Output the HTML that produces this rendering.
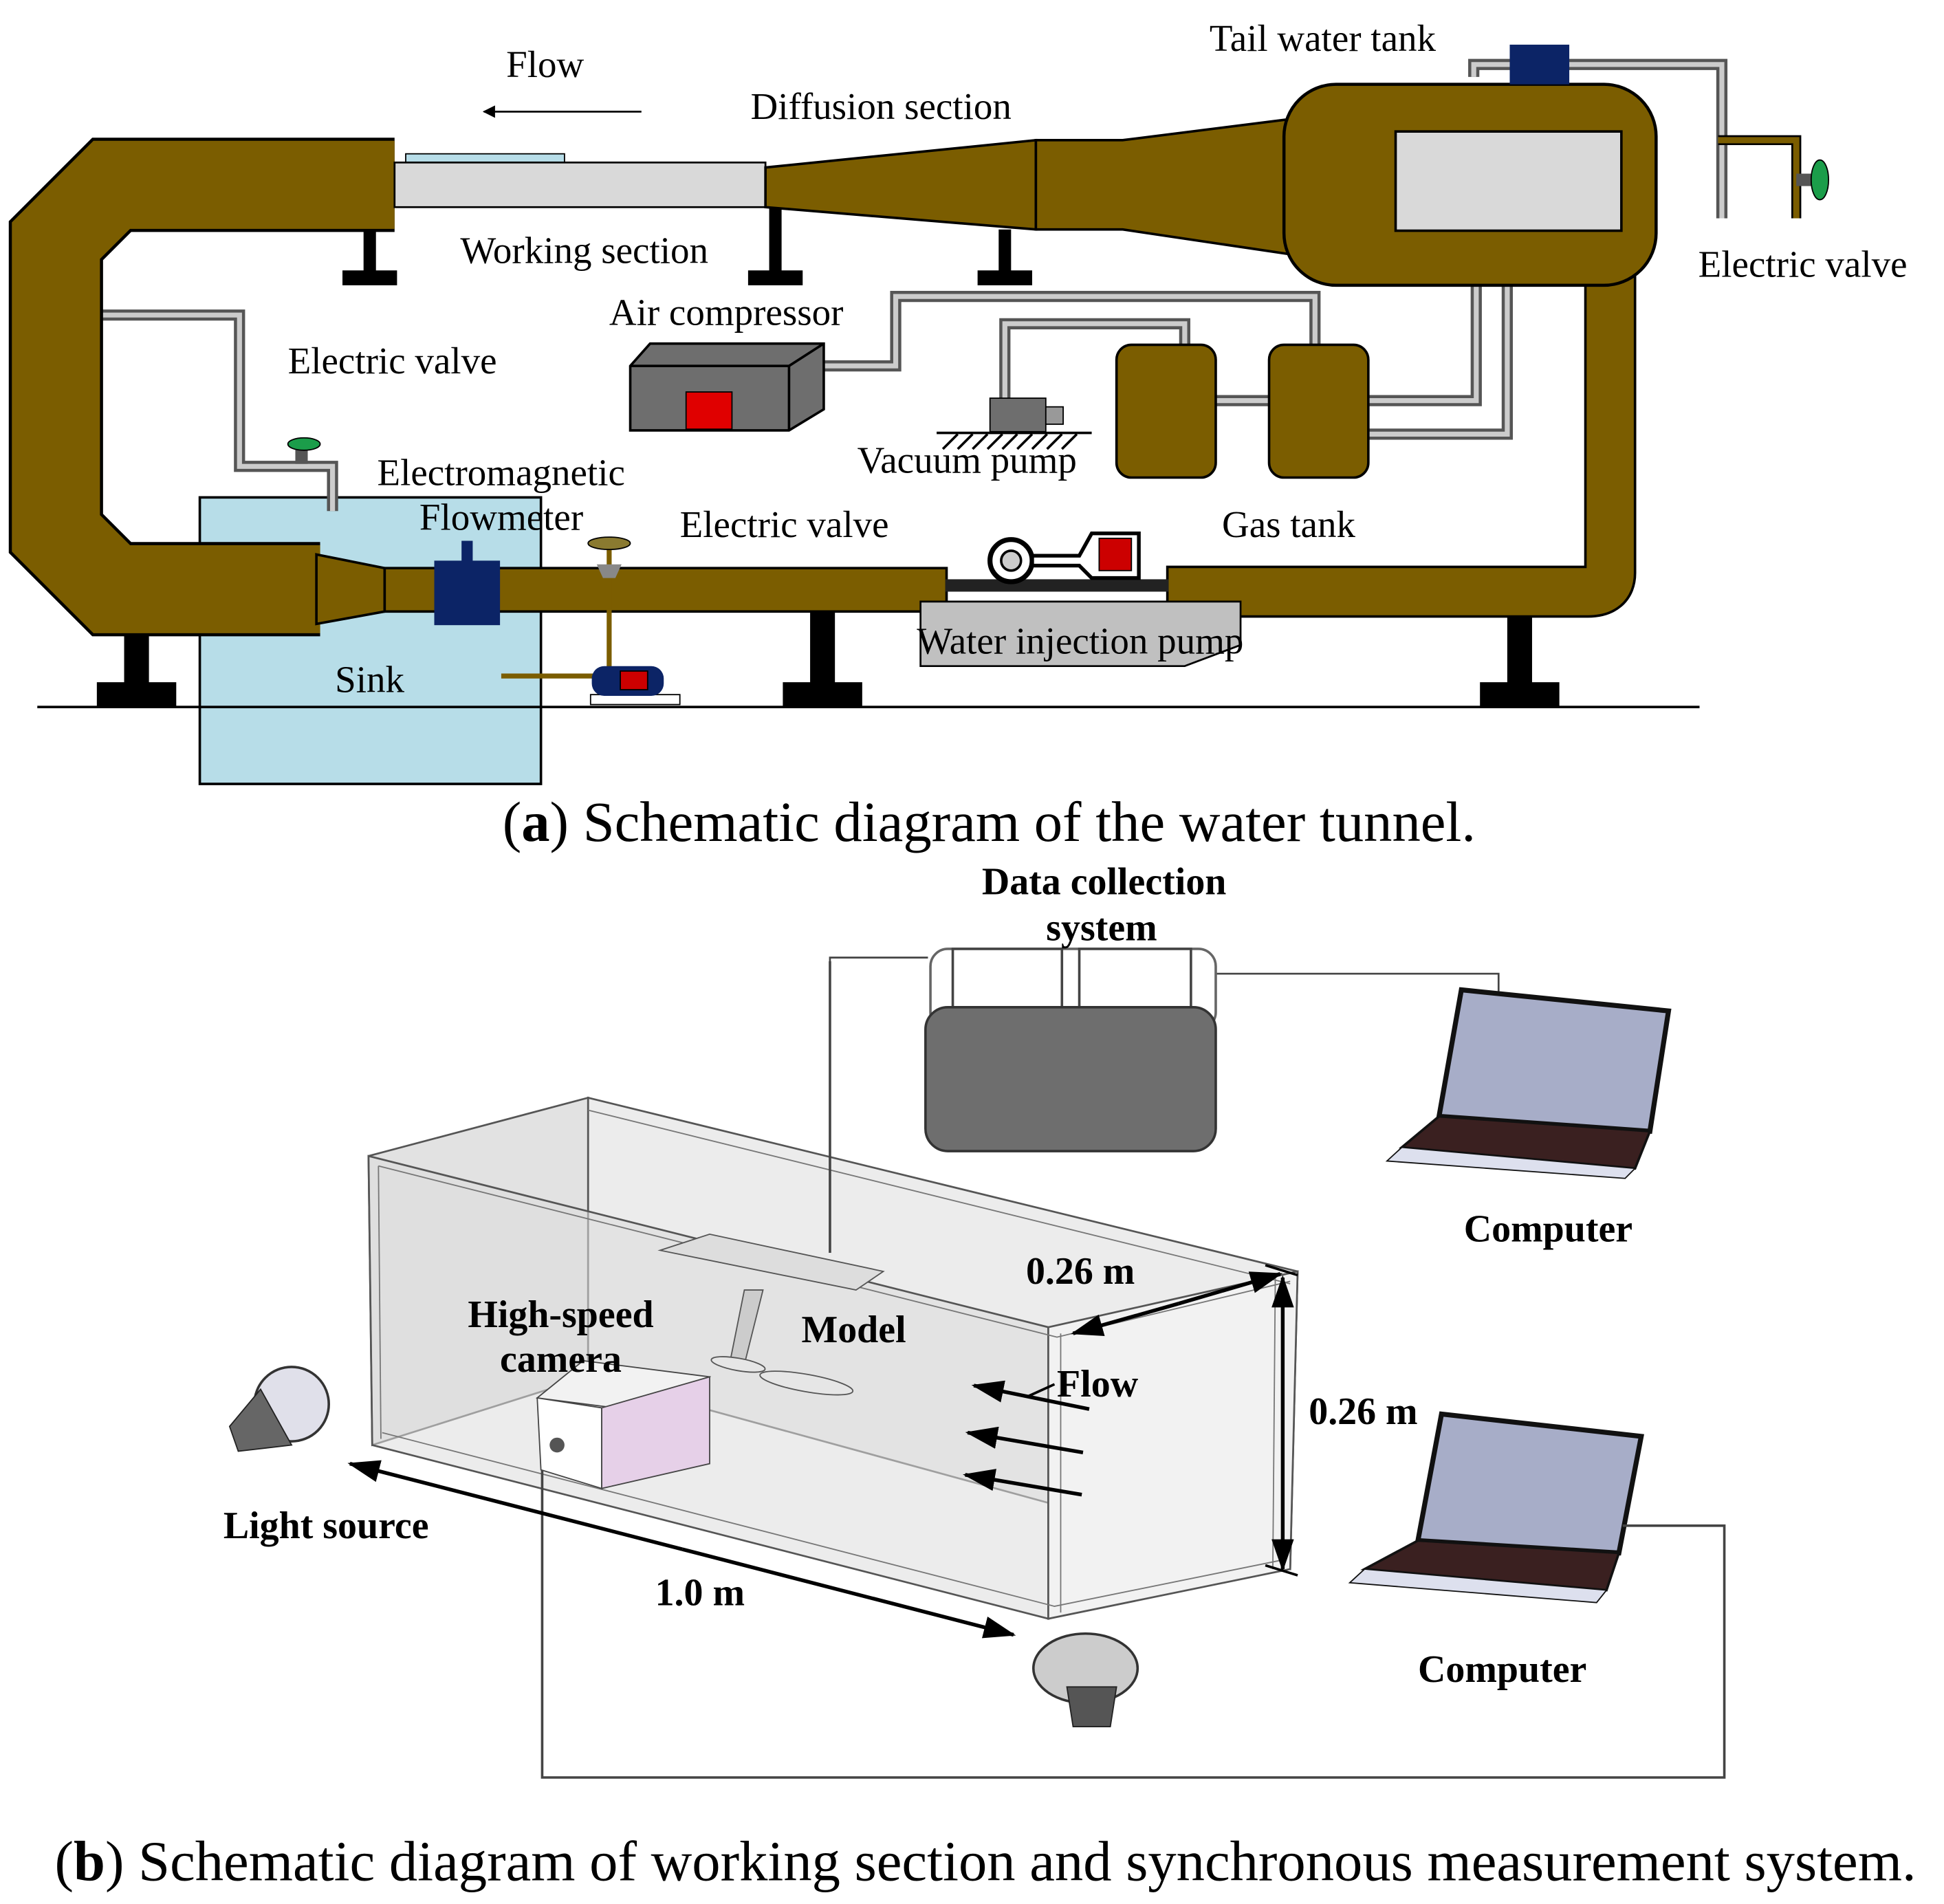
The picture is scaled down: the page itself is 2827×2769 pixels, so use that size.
<!DOCTYPE html>
<html><head><meta charset="utf-8"><style>
html,body{margin:0;padding:0;background:#fff;}
svg{display:block;}
.s{font-family:"Liberation Serif",serif;font-size:30.5px;fill:#000;}
.b{font-family:"Liberation Serif",serif;font-size:31px;font-weight:bold;fill:#000;}
.c{font-family:"Liberation Serif",serif;font-size:45.8px;fill:#000;}
</style></head><body>
<svg width="2827" height="2769" viewBox="0 0 1567 1535" xmlns="http://www.w3.org/2000/svg">
<defs>
<marker id="ah" markerWidth="10" markerHeight="10" refX="9" refY="5" orient="auto" markerUnits="userSpaceOnUse" viewBox="0 0 10 10"><path d="M0,0 L10,5 L0,10 z" fill="#000"/></marker>
<marker id="ab" markerWidth="26" markerHeight="18" refX="24" refY="9" orient="auto" markerUnits="userSpaceOnUse" viewBox="0 0 26 18"><path d="M0,0 L26,9 L0,18 z" fill="#000"/></marker>
</defs>
<rect x="161" y="401" width="275" height="231" fill="#b7dde8" stroke="#000" stroke-width="2"/>
<line x1="30" y1="570" x2="1370" y2="570" stroke="#000" stroke-width="2"/>
<g fill="#000">
<rect x="293" y="185" width="10" height="40"/><rect x="276" y="218" width="44" height="12"/>
<rect x="620" y="167" width="10" height="58"/><rect x="603" y="218" width="44" height="12"/>
<rect x="805" y="185" width="10" height="40"/><rect x="788" y="218" width="44" height="12"/>
<rect x="100" y="480" width="20" height="72"/><rect x="78" y="550" width="64" height="20"/>
<rect x="653" y="480" width="20" height="72"/><rect x="631" y="550" width="64" height="20"/>
<rect x="1215" y="497" width="20" height="55"/><rect x="1193" y="550" width="64" height="20"/>
</g>
<g fill="none" stroke="#555" stroke-width="9"><path d="M75,254 H193 V376 H268 V412"/>
<path d="M664,295 H722 V239 H1060 V280"/><path d="M810,322 V261 H955 V280"/>
<path d="M980,323 H1023"/><path d="M1103,323 H1190 V228"/><path d="M1103,350 H1215 V228"/>
<path d="M1188,62 V52 H1388 V176"/></g>
<g fill="none" stroke="#ccc" stroke-width="4"><path d="M75,254 H193 V376 H268 V412"/>
<path d="M664,295 H722 V239 H1060 V280"/><path d="M810,322 V261 H955 V280"/>
<path d="M980,323 H1023"/><path d="M1103,323 H1190 V228"/><path d="M1103,350 H1215 V228"/>
<path d="M1188,62 V52 H1388 V176"/></g>
<path d="M318,149 H90 L45,194 V430 L90,475 H258" fill="none" stroke="#000" stroke-width="76"/>
<path d="M318,149 H90 L45,194 V430 L90,475 H258" fill="none" stroke="#7b5d00" stroke-width="71"/>
<path d="M1298,220 V462 Q1298,477 1280,477 H940" fill="none" stroke="#000" stroke-width="42"/>
<path d="M1298,220 V462 Q1298,477 1280,477 H942" fill="none" stroke="#7b5d00" stroke-width="38"/>
<rect x="327" y="124" width="128" height="7" fill="#b7dde8" stroke="#000" stroke-width="1"/>
<rect x="318" y="131" width="299" height="36" fill="#d9d9d9" stroke="#000" stroke-width="1.5"/>
<polygon points="617,135 835,113 835,185 617,167" fill="#7b5d00" stroke="#000" stroke-width="2"/>
<polygon points="835,113 905,113 1040,96 1040,205 905,185 835,185" fill="#7b5d00" stroke="#000" stroke-width="2"/>
<rect x="1035" y="68" width="300" height="162" rx="42" fill="#7b5d00" stroke="#000" stroke-width="2.5"/>
<rect x="1125" y="106" width="182" height="80" fill="#d9d9d9" stroke="#000" stroke-width="2"/>
<rect x="1217" y="36" width="48" height="32" fill="#0c2466"/>
<path d="M1385,113 H1448 V176" fill="none" stroke="#000" stroke-width="8"/>
<path d="M1385,113 H1448 V176" fill="none" stroke="#7b5d00" stroke-width="5"/>
<rect x="1448" y="140" width="12" height="10" fill="#555"/>
<ellipse cx="1467" cy="145" rx="7" ry="16" fill="#1b9d4a" stroke="#000"/>
<polygon points="255,447 310,458 310,493 255,503" fill="#7b5d00" stroke="#000" stroke-width="2"/>
<rect x="310" y="458" width="453" height="35" fill="#7b5d00" stroke="#000" stroke-width="2"/>
<rect x="350" y="452" width="53" height="52" fill="#0c2466"/>
<rect x="372" y="436" width="9" height="18" fill="#0c2466"/>
<path d="M491,440 V545 H404" fill="none" stroke="#7b5d00" stroke-width="4"/>
<ellipse cx="491" cy="438" rx="17" ry="5" fill="#8a7a30" stroke="#000"/>
<polygon points="481,455 501,455 496,466 486,466" fill="#888"/>
<rect x="476" y="560" width="72" height="8" fill="#fff" stroke="#000"/>
<rect x="477" y="537" width="58" height="24" rx="10" fill="#0c2466"/>
<rect x="500" y="541" width="22" height="15" fill="#c00" stroke="#000"/>
<polygon points="742,485 1000,485 1000,520 955,537 742,537" fill="#c0c0c0" stroke="#000" stroke-width="1.5"/>
<rect x="762" y="467" width="180" height="10" fill="#222"/>
<circle cx="815" cy="452" r="17" fill="#fff" stroke="#000" stroke-width="4"/>
<circle cx="815" cy="452" r="8" fill="#ccc" stroke="#000" stroke-width="2"/>
<path d="M832,448 H870 L880,430 H918 V466 H880 L870,456 H832 z" fill="#fff" stroke="#000" stroke-width="3"/>
<rect x="886" y="434" width="26" height="26" fill="#c00" stroke="#000"/>
<polygon points="508,295 524,277 664,277 664,330 636,347 508,347" fill="#6e6e6e" stroke="#000" stroke-width="2"/>
<polyline points="508,295 636,295 664,277" fill="none" stroke="#000" stroke-width="2"/>
<line x1="636" y1="295" x2="636" y2="347" stroke="#000" stroke-width="2"/>
<rect x="553" y="316" width="37" height="30" fill="#e00000" stroke="#000"/>
<rect x="798" y="321" width="45" height="27" fill="#6e6e6e" stroke="#000"/>
<rect x="843" y="328" width="14" height="14" fill="#999" stroke="#000"/>
<line x1="755" y1="349" x2="880" y2="349" stroke="#000" stroke-width="2"/>
<g stroke="#000" stroke-width="2"><path d="M760,362 L772,350 M772,362 L784,350 M784,362 L796,350 M796,362 L808,350 M808,362 L820,350 M820,362 L832,350 M832,362 L844,350 M844,362 L856,350 M856,362 L868,350"/></g>
<rect x="900" y="278" width="80" height="107" rx="12" fill="#7b5d00" stroke="#000" stroke-width="2"/>
<rect x="1023" y="278" width="80" height="107" rx="12" fill="#7b5d00" stroke="#000" stroke-width="2"/>
<rect x="238" y="360" width="10" height="14" fill="#555"/>
<ellipse cx="245" cy="358" rx="13" ry="5" fill="#1b9d4a" stroke="#000"/>
<text class="s" x="408" y="62">Flow</text>
<line x1="517" y1="90" x2="390" y2="90" stroke="#000" stroke-width="1.5" marker-end="url(#ah)"/>
<text class="s" x="605" y="96">Diffusion section</text>
<text class="s" x="975" y="41">Tail water tank</text>
<text class="s" x="1369" y="223">Electric valve</text>
<text class="s" x="371" y="212">Working section</text>
<text class="s" x="491" y="262">Air compressor</text>
<text class="s" x="232" y="301">Electric valve</text>
<text class="s" x="691" y="381">Vacuum pump</text>
<text class="s" x="304" y="391">Electromagnetic</text>
<text class="s" x="338" y="427">Flowmeter</text>
<text class="s" x="548" y="433">Electric valve</text>
<text class="s" x="985" y="433">Gas tank</text>
<text class="s" x="739" y="527">Water injection pump</text>
<text class="s" x="270" y="558">Sink</text>
<text class="c" x="405" y="678">(<tspan font-weight="bold">a</tspan>) Schematic diagram of the water tunnel.</text>

<polygon points="474,885 1046,1025 1040,1265 474,1110" fill="#ececec" stroke="#555" stroke-width="1.5"/>
<polygon points="297,932 474,885 474,1110 300,1165" fill="#e2e2e2" stroke="#555" stroke-width="1.5"/>
<polygon points="297,932 845,1070 845,1305 300,1165" fill="#dcdcdc" fill-opacity="0.55" stroke="#555" stroke-width="1.5"/>
<polygon points="845,1070 1046,1025 1040,1265 845,1305" fill="#f2f2f2" stroke="#555" stroke-width="1.5"/>
<g fill="none" stroke="#777" stroke-width="1">
<polyline points="305,940 852,1078 1040,1033"/><polyline points="308,1155 850,1295 1032,1258"/>
<line x1="305" y1="940" x2="307" y2="1160"/><line x1="855" y1="1075" x2="855" y2="1300"/><line x1="1028" y1="1030" x2="1026" y2="1265"/>
<polyline points="474,895 1040,1035"/>
</g>
<polygon points="532,1008 572,995 712,1025 690,1040" fill="#ddd" stroke="#555"/>
<polygon points="600,1040 615,1040 600,1100 588,1100" fill="#ccc" stroke="#555"/>
<ellipse cx="650" cy="1115" rx="38" ry="7" fill="#e6e6e6" stroke="#555" transform="rotate(10 650 1115)"/>
<ellipse cx="595" cy="1100" rx="22" ry="5" fill="#e6e6e6" stroke="#555" transform="rotate(10 595 1100)"/>
<line x1="669" y1="775" x2="669" y2="1010" stroke="#444" stroke-width="2"/>
<path d="M669,775 V772 H748" fill="none" stroke="#444" stroke-width="1.5"/>
<path d="M980,785 H1208 V800" fill="none" stroke="#444" stroke-width="1.5"/>
<rect x="750" y="765" width="230" height="65" rx="14" fill="#fff" stroke="#666" stroke-width="2"/>
<rect x="768" y="765" width="88" height="55" fill="#fff" stroke="#444" stroke-width="2"/>
<rect x="870" y="765" width="90" height="55" fill="#fff" stroke="#444" stroke-width="2"/>
<rect x="746" y="812" width="234" height="116" rx="18" fill="#6e6e6e" stroke="#333" stroke-width="2"/>
<g>
<polygon points="1178,798 1345,815 1330,912 1160,900" fill="#a7adc8" stroke="#111" stroke-width="4"/>
<polygon points="1160,900 1330,912 1318,942 1130,925" fill="#3a2020" stroke="#111" stroke-width="2"/>
<polygon points="1130,925 1318,942 1310,950 1118,936" fill="#dde0ee" stroke="#111"/>
<polygon points="1162,1140 1323,1158 1305,1252 1143,1242" fill="#a7adc8" stroke="#111" stroke-width="4"/>
<polygon points="1143,1242 1305,1252 1295,1282 1100,1265" fill="#3a2020" stroke="#111" stroke-width="2"/>
<polygon points="1100,1265 1295,1282 1287,1292 1088,1276" fill="#dde0ee" stroke="#111"/>
</g>
<path d="M1308,1230 H1390 V1433 H437 V1165" fill="none" stroke="#444" stroke-width="2"/>
<polygon points="433,1127 470,1097 572,1110 535,1140" fill="#f2f2f2" stroke="#444"/>
<polygon points="433,1127 485,1135 485,1200 436,1185" fill="#fff" stroke="#444"/>
<polygon points="485,1135 572,1110 572,1180 485,1200" fill="#e6d0e8" stroke="#444"/>
<circle cx="449" cy="1165" r="6" fill="#555"/>
<ellipse cx="235" cy="1132" rx="30" ry="30" fill="#e0e0ea" stroke="#333" stroke-width="2"/>
<polygon points="210,1120 235,1165 192,1170 185,1150" fill="#666" stroke="#222"/>
<ellipse cx="875" cy="1345" rx="42" ry="28" fill="#ccc" stroke="#333" stroke-width="2"/>
<polygon points="860,1360 900,1360 895,1392 865,1392" fill="#555" stroke="#222"/>
<line x1="950" y1="1051" x2="865" y2="1075" stroke="#000" stroke-width="3" marker-end="url(#ab)"/>
<line x1="950" y1="1051" x2="1032" y2="1027" stroke="#000" stroke-width="3" marker-end="url(#ab)"/>
<line x1="1034" y1="1150" x2="1034" y2="1030" stroke="#000" stroke-width="3" marker-end="url(#ab)"/>
<line x1="1034" y1="1150" x2="1034" y2="1265" stroke="#000" stroke-width="3" marker-end="url(#ab)"/>
<line x1="1020" y1="1020" x2="1046" y2="1028" stroke="#000" stroke-width="2"/>
<line x1="1020" y1="1262" x2="1046" y2="1270" stroke="#000" stroke-width="2"/>
<line x1="550" y1="1249" x2="282" y2="1180" stroke="#000" stroke-width="3" marker-end="url(#ab)"/>
<line x1="550" y1="1249" x2="817" y2="1318" stroke="#000" stroke-width="3" marker-end="url(#ab)"/>
<line x1="878" y1="1136" x2="785" y2="1117" stroke="#000" stroke-width="3" marker-end="url(#ab)"/>
<line x1="873" y1="1171" x2="780" y2="1155" stroke="#000" stroke-width="3" marker-end="url(#ab)"/>
<line x1="872" y1="1205" x2="778" y2="1189" stroke="#000" stroke-width="3" marker-end="url(#ab)"/>
<line x1="850" y1="1116" x2="828" y2="1126" stroke="#000" stroke-width="2"/>
<text class="b" x="890" y="721" text-anchor="middle">Data collection</text>
<text class="b" x="888" y="758" text-anchor="middle">system</text>
<text class="b" x="1180" y="1001">Computer</text>
<text class="b" x="827" y="1035">0.26 m</text>
<text class="b" x="452" y="1070" text-anchor="middle">High-speed</text>
<text class="b" x="452" y="1106" text-anchor="middle">camera</text>
<text class="b" x="646" y="1082">Model</text>
<text class="b" x="852" y="1126">Flow</text>
<text class="b" x="1055" y="1148">0.26 m</text>
<text class="b" x="180" y="1240">Light source</text>
<text class="b" x="528" y="1294">1.0 m</text>
<text class="b" x="1143" y="1356">Computer</text>
<text class="c" x="44" y="1516">(<tspan font-weight="bold">b</tspan>) Schematic diagram of working section and synchronous measurement system.</text>
</svg>
</body></html>
